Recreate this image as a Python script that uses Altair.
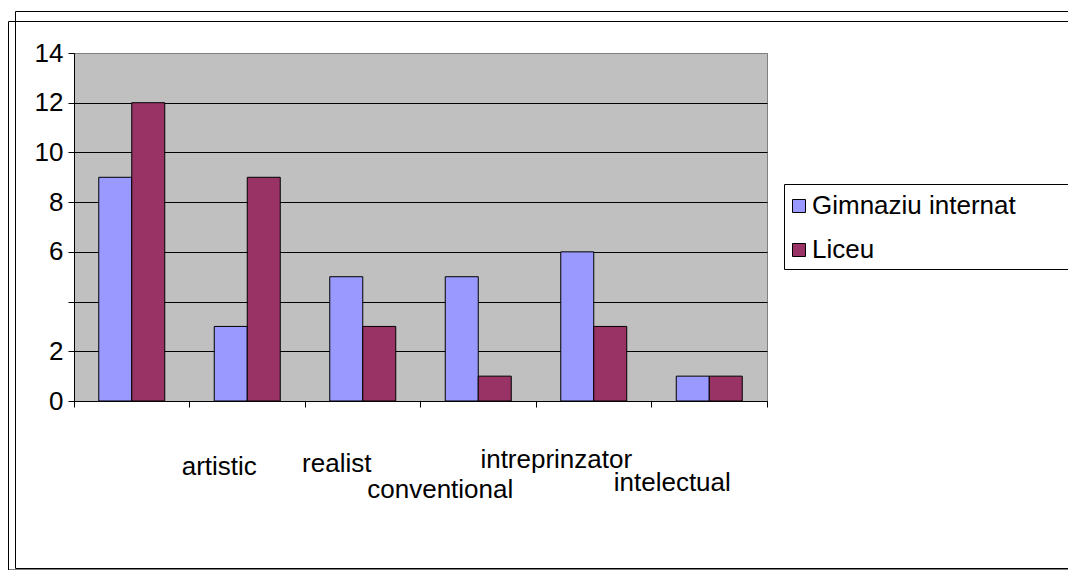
import altair as alt
import pandas as pd

categories = ["", "artistic", "realist", "conventional", "intreprinzator", "intelectual"]
series = ["Gimnaziu internat", "Liceu"]
gimnaziu = [9, 3, 5, 5, 6, 1]
liceu = [12, 9, 3, 1, 3, 1]
y_ticks = [0, 2, 4, 6, 8, 10, 12, 14]
colors = ["#9999FF", "#993366"]

rows = []
for c, g, l in zip(categories, gimnaziu, liceu):
    rows.append({"cat": c, "series": series[0], "value": g})
    rows.append({"cat": c, "series": series[1], "value": l})
df = pd.DataFrame(rows)

FONT = "Liberation Sans"
FS = 26

label_offset = {"expr": "datum.value == 'artistic' ? -28 : datum.value == 'realist' ? -26 : "
                        "datum.value == 'conventional' ? -38 : datum.value == 'intreprinzator' ? -37.5 : "
                        "datum.value == 'intelectual' ? -37 : 0"}
label_padding = {"expr": "datum.value == 'artistic' ? 67 : datum.value == 'realist' ? 64 : "
                         "datum.value == 'conventional' ? 90 : datum.value == 'intreprinzator' ? 60 : "
                         "datum.value == 'intelectual' ? 83 : 60"}

bars = alt.Chart(df).mark_bar(stroke="black", strokeWidth=1).encode(
    x=alt.X("cat:N", sort=categories,
            scale=alt.Scale(paddingInner=0, paddingOuter=0),
            axis=alt.Axis(title=None, bandPosition=1, tickExtra=True, tickSize=6,
                          tickColor="black", domainColor="black", labelAngle=0,
                          labelFont=FONT, labelFontSize=FS, labelColor="black",
                          labelBaseline="alphabetic", labelAlign="center",
                          labelOffset=label_offset, labelPadding=label_padding,
                          labelOverlap=False, labelBound=False, labelLimit=400,
                          grid=False)),
    xOffset=alt.XOffset("series:N", sort=series,
                        scale=alt.Scale(paddingInner=0, paddingOuter=0.75)),
    y=alt.Y("value:Q", scale=alt.Scale(domain=[0, 14], nice=False),
            axis=alt.Axis(title=None, values=y_ticks, tickSize=6, tickColor="black",
                          domainColor="black", labelFont=FONT, labelFontSize=FS,
                          labelColor="black", labelPadding=5,
                          labelExpr="datum.value == 4 ? '' : datum.label",
                          grid=True,
                          gridColor={"condition": {"test": "datum.value == 14", "value": "#808080"},
                                     "value": "black"},
                          gridWidth=1)),
    color=alt.Color("series:N", sort=series,
                    scale=alt.Scale(domain=series, range=colors),
                    legend=alt.Legend(title=None, orient="none", legendX=703, legendY=131,
                                      padding=9,
                                      symbolType="square", symbolSize=169,
                                      symbolStrokeColor="black", symbolStrokeWidth=1,
                                      labelFont=FONT, labelFontSize=FS, labelColor="black",
                                      rowPadding=18, labelOffset=0, labelLimit=400)),
)

frame_data = alt.Data(values=[{"k": 0}])


def hline(y, x1, x2, color="black"):
    return alt.Chart(frame_data).mark_rule(color=color, strokeWidth=1).encode(
        x=alt.value(x1), x2=alt.value(x2), y=alt.value(y))


def vline(x, y1, y2, color="black"):
    return alt.Chart(frame_data).mark_rule(color=color, strokeWidth=1).encode(
        x=alt.value(x), y=alt.value(y1), y2=alt.value(y2))


# legend frame (runs off the right edge, as in the reference)
legend_box = alt.Chart(frame_data).mark_rect(
    fillOpacity=0, stroke="black", strokeWidth=1
).encode(x=alt.value(710.5), x2=alt.value(1010), y=alt.value(131.5), y2=alt.value(216.5))

frames = [
    hline(-41.5, -58.5, 1010),
    vline(-58.5, -41.5, 515.5),
    hline(515.5, -58.5, 1010),
    hline(516.5, -65.5, 1010, "#808080"),
    hline(-31.5, -65.5, 1010),
    vline(-65.5, -31.5, 530),
    legend_box,
]

chart = alt.layer(bars, *frames).properties(
    width=693, height=348,
    autosize=alt.AutoSizeParams(type="none"),
    padding={"left": 66, "top": 45, "right": 301, "bottom": 169},
    background="white",
).configure_view(
    stroke="#808080", strokeWidth=1, fill="#C0C0C0"
)

chart.save("out.html", embed_options={"renderer": "svg", "actions": False})
